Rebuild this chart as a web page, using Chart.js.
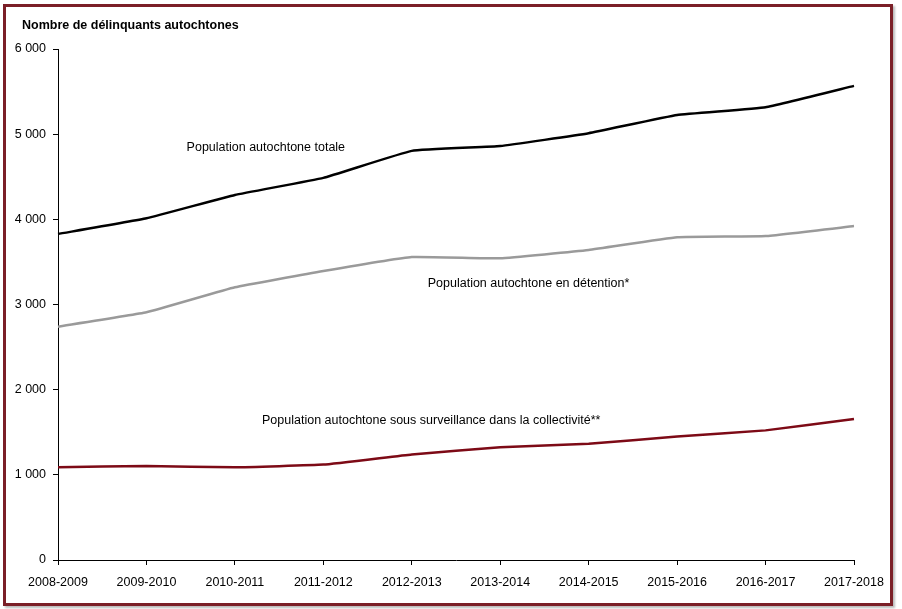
<!DOCTYPE html>
<html>
<head>
<meta charset="utf-8">
<script src="https://cdn.jsdelivr.net/npm/chart.js@4/dist/chart.umd.min.js"></script>
<style>
  body { margin: 0; background: #fff; }
  #wrap { position: relative; width: 902px; height: 609px; }
  #frame {
    position: absolute; left: 3px; top: 4px; width: 890px; height: 602px;
    box-sizing: border-box; border: 3px solid #7b1f27;
    box-shadow: 2px 2px 2px #bbb; pointer-events: none;
  }
  canvas { position: absolute; left: 0; top: 0; }
</style>
</head>
<body>
<div id="wrap">
  <canvas id="myChart" width="902" height="609"></canvas>
  <div id="frame"></div>
</div>
<script>
const years = ['2008-2009', '2009-2010', '2010-2011', '2011-2012', '2012-2013',
               '2013-2014', '2014-2015', '2015-2016', '2016-2017', '2017-2018'];
const totale = [3828, 4012, 4286, 4487, 4804, 4861, 5011, 5225, 5316, 5567];
const detention = [2740, 2908, 3202, 3393, 3558, 3542, 3640, 3789, 3804, 3921];
const surveillance = [1088, 1104, 1088, 1120, 1240, 1325, 1366, 1450, 1522, 1655];
const seriesNames = ['Population autochtone totale',
                     'Population autochtone en détention*',
                     'Population autochtone sous surveillance dans la collectivité**'];
const yTitle = 'Nombre de délinquants autochtones';

const FONT = 'Liberation Sans, Arial, sans-serif';

// text labels placed next to each line (x = category index, y = value)
const lineLabels = [
    { text: seriesNames[0], x: 2.35, y: 4840 },
    { text: seriesNames[1], x: 5.32, y: 3250 },
    { text: seriesNames[2], x: 4.22, y: 1632 }
];

const labelPlugin = {
    id: 'lineLabels',
    afterDatasetsDraw(chart) {
        const ctx = chart.ctx;
        const xs = chart.scales.x, ys = chart.scales.y;
        ctx.save();
        ctx.fillStyle = '#000';
        ctx.textBaseline = 'middle';

        // axis title, top left
        ctx.font = 'bold 12.5px ' + FONT;
        ctx.textAlign = 'left';
        ctx.fillText(yTitle, 22, 26);

        ctx.font = '12.5px ' + FONT;
        ctx.textAlign = 'center';
        lineLabels.forEach(l => {
            const px = xs.getPixelForValue(l.x);
            const py = ys.getPixelForValue(l.y);
            ctx.fillText(l.text, px, py);
        });
        ctx.restore();
    }
};

function fmt(v) {
    return String(v).replace(/\B(?=(\d{3})+(?!\d))/g, ' ');
}

const axisLine = {
    display: true,
    drawOnChartArea: false,
    drawTicks: true,
    tickLength: 5,
    color: '#000',
    lineWidth: 1
};

const ctx = document.getElementById('myChart').getContext('2d');
new Chart(ctx, {
    type: 'line',
    data: {
        labels: years,
        datasets: [
            { label: seriesNames[0], data: totale, borderColor: '#000000', borderWidth: 2.5 },
            { label: seriesNames[1], data: detention, borderColor: '#9a9a9a', borderWidth: 2.5 },
            { label: seriesNames[2], data: surveillance, borderColor: '#7d0a16', borderWidth: 2.5 }
        ]
    },
    options: {
        responsive: false,
        animation: false,
        elements: {
            point: { radius: 0 },
            line: { tension: 0.1 }
        },
        layout: { padding: { left: 0, right: 48, top: 49, bottom: 0 } },
        plugins: {
            legend: { display: false },
            tooltip: { enabled: false },
            title: { display: false }
        },
        scales: {
            x: {
                offset: false,
                grid: axisLine,
                border: { display: true, color: '#000', width: 1 },
                ticks: {
                    color: '#000',
                    font: { family: FONT, size: 12.5 },
                    padding: 10,
                    maxRotation: 0,
                    autoSkip: false
                },
                afterFit: s => { s.height = 49; }
            },
            y: {
                min: 0,
                max: 6000,
                grid: axisLine,
                border: { display: true, color: '#000', width: 1 },
                ticks: {
                    stepSize: 1000,
                    color: '#000',
                    font: { family: FONT, size: 12.5 },
                    padding: 7,
                    callback: v => fmt(v)
                },
                afterFit: s => { s.width = 58; }
            }
        }
    },
    plugins: [labelPlugin]
});
</script>
</body>
</html>
